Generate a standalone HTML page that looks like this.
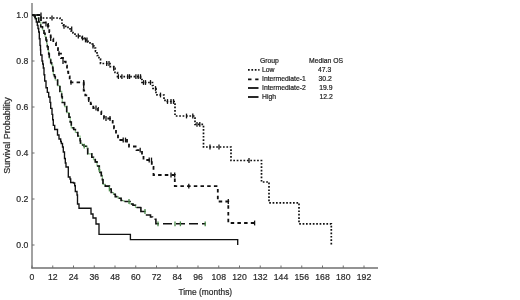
<!DOCTYPE html>
<html><head><meta charset="utf-8"><style>
html,body{margin:0;padding:0;background:#fff;}
body{width:520px;height:300px;overflow:hidden;position:relative;}
svg{position:absolute;left:0;top:0;will-change:transform;}
text{font-family:"Liberation Sans",sans-serif;}
</style></head><body>
<svg width="520" height="300" viewBox="0 0 520 300">
<rect width="520" height="300" fill="#fff"/>
<g stroke="#6f6f6f" stroke-width="1.3" fill="none">
<line x1="32" y1="3" x2="32" y2="268.6"/>
<line x1="31.4" y1="268" x2="378" y2="268"/>
</g>
<g stroke="#6f6f6f" stroke-width="1"><line x1="32.00" y1="268" x2="32.00" y2="265.5"/><line x1="52.75" y1="268" x2="52.75" y2="265.5"/><line x1="73.50" y1="268" x2="73.50" y2="265.5"/><line x1="94.25" y1="268" x2="94.25" y2="265.5"/><line x1="115.00" y1="268" x2="115.00" y2="265.5"/><line x1="135.75" y1="268" x2="135.75" y2="265.5"/><line x1="156.50" y1="268" x2="156.50" y2="265.5"/><line x1="177.25" y1="268" x2="177.25" y2="265.5"/><line x1="198.00" y1="268" x2="198.00" y2="265.5"/><line x1="218.75" y1="268" x2="218.75" y2="265.5"/><line x1="239.50" y1="268" x2="239.50" y2="265.5"/><line x1="260.25" y1="268" x2="260.25" y2="265.5"/><line x1="281.00" y1="268" x2="281.00" y2="265.5"/><line x1="301.75" y1="268" x2="301.75" y2="265.5"/><line x1="322.50" y1="268" x2="322.50" y2="265.5"/><line x1="343.25" y1="268" x2="343.25" y2="265.5"/><line x1="364.00" y1="268" x2="364.00" y2="265.5"/><line x1="32" y1="245.0" x2="34.5" y2="245.0"/><line x1="32" y1="199.0" x2="34.5" y2="199.0"/><line x1="32" y1="153.0" x2="34.5" y2="153.0"/><line x1="32" y1="107.0" x2="34.5" y2="107.0"/><line x1="32" y1="61.0" x2="34.5" y2="61.0"/><line x1="32" y1="15.0" x2="34.5" y2="15.0"/></g>
<g fill="#2a2a2a" stroke="#2a2a2a" stroke-width="0.2" font-size="8.7" text-anchor="middle"><text transform="translate(32.00,279.6) scale(1,1.1)">0</text><text transform="translate(52.75,279.6) scale(1,1.1)">12</text><text transform="translate(73.50,279.6) scale(1,1.1)">24</text><text transform="translate(94.25,279.6) scale(1,1.1)">36</text><text transform="translate(115.00,279.6) scale(1,1.1)">48</text><text transform="translate(135.75,279.6) scale(1,1.1)">60</text><text transform="translate(156.50,279.6) scale(1,1.1)">72</text><text transform="translate(177.25,279.6) scale(1,1.1)">84</text><text transform="translate(198.00,279.6) scale(1,1.1)">96</text><text transform="translate(218.75,279.6) scale(1,1.1)">108</text><text transform="translate(239.50,279.6) scale(1,1.1)">120</text><text transform="translate(260.25,279.6) scale(1,1.1)">132</text><text transform="translate(281.00,279.6) scale(1,1.1)">144</text><text transform="translate(301.75,279.6) scale(1,1.1)">156</text><text transform="translate(322.50,279.6) scale(1,1.1)">168</text><text transform="translate(343.25,279.6) scale(1,1.1)">180</text><text transform="translate(364.00,279.6) scale(1,1.1)">192</text></g>
<g fill="#2a2a2a" stroke="#2a2a2a" stroke-width="0.2" font-size="8.7" text-anchor="end"><text transform="translate(28.4,247.6) scale(1,1.1)">0.0</text><text transform="translate(28.4,201.6) scale(1,1.1)">0.2</text><text transform="translate(28.4,155.6) scale(1,1.1)">0.4</text><text transform="translate(28.4,109.6) scale(1,1.1)">0.6</text><text transform="translate(28.4,63.6) scale(1,1.1)">0.8</text><text transform="translate(28.4,17.6) scale(1,1.1)">1.0</text></g>
<text x="205.3" y="295" fill="#2a2a2a" stroke="#2a2a2a" stroke-width="0.2" font-size="8.4" text-anchor="middle">Time (months)</text>
<text transform="translate(10.4,135.4) rotate(-90)" fill="#2a2a2a" stroke="#2a2a2a" stroke-width="0.2" font-size="9" text-anchor="middle">Survival Probability</text>
<g fill="none" stroke-width="1.3" stroke-linejoin="miter">
<path d="M32.0 15.0 L41.0 15.0 L41.0 18.0 L60.0 18.0 L60.0 20.0 L62.0 20.0 L62.0 25.0 L63.3 25.0 L63.3 26.3 L68.0 26.3 L68.0 28.8 L71.0 28.8 L71.0 31.0 L73.0 31.0 L73.0 33.0 L75.0 33.0 L75.0 36.0 L82.0 36.0 L82.0 38.0 L84.0 38.0 L84.0 40.0 L88.0 40.0 L88.0 42.0 L90.0 42.0 L90.0 44.0 L92.5 44.0 L92.5 46.0 L94.0 46.0 L94.0 48.0 L95.5 48.0 L95.5 51.3 L97.0 51.3 L97.0 55.5 L99.0 55.5 L99.0 59.0 L100.5 59.0 L100.5 63.5 L110.0 63.5 L110.0 66.7 L113.7 66.7 L113.7 68.4 L115.0 68.4 L115.0 72.5 L117.5 72.5 L117.5 76.6 L140.5 76.6 L140.5 79.5 L142.0 79.5 L142.0 82.5 L152.5 82.5 L152.5 85.5 L153.0 85.5 L153.0 88.5 L156.0 88.5 L156.0 92.5 L157.0 92.5 L157.0 95.0 L164.0 95.0 L164.0 99.0 L165.0 99.0 L165.0 101.5 L175.0 101.5 L175.0 116.0 L195.0 116.0 L195.0 124.4 L203.5 124.4 L203.5 147.0 L231.0 147.0 L231.0 160.5 L261.5 160.5 L261.5 182.0 L269.0 182.0 L269.0 202.8 L299.0 202.8 L299.0 223.8 L331.3 223.8 L331.3 245.0" stroke="#111" stroke-width="1.7" stroke-dasharray="1.7 1.7"/>
<path d="M32.0 15.0 L34.0 15.0 L34.0 15.0 L41.0 15.0 L41.0 20.0 L42.7 20.0 L42.7 22.7 L45.3 22.7 L45.3 24.0 L48.0 24.0 L48.0 26.0 L49.3 26.0 L49.3 32.0 L50.0 32.0 L50.0 34.0 L50.7 34.0 L50.7 38.7 L53.3 38.7 L53.3 42.7 L56.0 42.7 L56.0 46.7 L57.0 46.7 L57.0 47.0 L58.0 47.0 L58.0 50.0 L59.0 50.0 L59.0 53.7 L61.0 53.7 L61.0 58.0 L63.0 58.0 L63.0 61.7 L65.7 61.7 L65.7 65.7 L67.0 65.7 L67.0 71.7 L68.3 71.7 L68.3 76.3 L69.7 76.3 L69.7 80.3 L71.0 80.3 L71.0 82.3 L83.7 82.3 L83.7 90.7 L85.3 90.7 L85.3 95.3 L88.7 95.3 L88.7 99.7 L90.7 99.7 L90.7 104.0 L93.3 104.0 L93.3 108.0 L98.0 108.0 L98.0 111.3 L101.3 111.3 L101.3 114.0 L104.0 114.0 L104.0 118.5 L112.7 118.5 L112.7 123.8 L114.0 123.8 L114.0 128.4 L116.0 128.4 L116.0 133.7 L118.0 133.7 L118.0 140.0 L127.0 140.0 L127.0 143.0 L129.0 143.0 L129.0 146.5 L136.5 146.5 L136.5 150.2 L142.0 150.2 L142.0 157.0 L143.5 157.0 L143.5 160.0 L151.8 160.0 L151.8 167.0 L153.5 167.0 L153.5 175.0 L174.8 175.0 L174.8 186.2 L217.8 186.2 L217.8 201.5 L228.3 201.5 L228.3 223.0 L255.0 223.0 L255.0 223.0" stroke="#111" stroke-width="1.8" stroke-dasharray="3.5 3.2" stroke-dashoffset="2"/>
<path d="M32.0 15.0 L35.0 15.0 L35.0 18.0 L38.7 18.0 L38.7 22.0 L40.7 22.0 L40.7 26.7 L42.5 26.7 L42.5 30.0 L44.0 30.0 L44.0 33.3 L45.0 33.3 L45.0 36.5 L46.0 36.5 L46.0 40.0 L46.7 40.0 L46.7 43.5 L47.3 43.5 L47.3 46.7 L48.1 46.7 L48.1 50.7 L48.7 50.7 L48.7 54.0 L49.3 54.0 L49.3 58.7 L50.7 58.7 L50.7 62.7 L51.6 62.7 L51.6 65.0 L52.7 65.0 L52.7 68.0 L53.0 68.0 L53.0 71.0 L53.3 71.0 L53.3 74.7 L54.5 74.7 L54.5 76.5 L55.3 76.5 L55.3 80.0 L57.6 80.0 L57.6 85.6 L59.9 85.6 L59.9 91.4 L61.7 91.4 L61.7 96.7 L62.3 96.7 L62.3 102.5 L64.6 102.5 L64.6 106.6 L66.7 106.6 L66.7 112.7 L69.0 112.7 L69.0 117.3 L70.2 117.3 L70.2 122.0 L71.3 122.0 L71.3 127.8 L73.7 127.8 L73.7 129.5 L75.4 129.5 L75.4 132.5 L77.8 132.5 L77.8 136.0 L80.1 136.0 L80.1 140.7 L80.5 140.7 L80.5 143.3 L82.0 143.3 L82.0 145.0 L84.2 145.0 L84.2 146.2 L87.1 146.2 L87.1 148.5 L87.7 148.5 L87.7 153.8 L91.8 153.8 L91.8 157.3 L93.5 157.3 L93.5 159.6 L95.3 159.6 L95.3 161.9 L97.0 161.9 L97.0 166.0 L99.3 166.0 L99.3 169.5 L100.0 169.5 L100.0 172.4 L101.3 172.4 L101.3 175.6 L102.4 175.6 L102.4 179.7 L103.0 179.7 L103.0 184.3 L105.3 184.3 L105.3 186.1 L109.4 186.1 L109.4 189.0 L111.2 189.0 L111.2 192.5 L113.5 192.5 L113.5 194.3 L115.3 194.3 L115.3 196.6 L118.2 196.6 L118.2 198.3 L121.1 198.3 L121.1 200.5 L124.0 200.5 L124.0 201.5 L130.0 201.5 L130.0 201.5 L130.0 201.5 L130.0 204.0 L133.0 204.0 L133.0 205.2 L135.5 205.2 L135.5 207.5 L140.5 207.5 L140.5 208.0" stroke="#8cbf8c" stroke-width="1.2"/>
<path d="M32.0 15.0 L35.0 15.0 L35.0 18.0 L38.7 18.0 L38.7 22.0 L40.7 22.0 L40.7 26.7 L42.5 26.7 L42.5 30.0 L44.0 30.0 L44.0 33.3 L45.0 33.3 L45.0 36.5 L46.0 36.5 L46.0 40.0 L46.7 40.0 L46.7 43.5 L47.3 43.5 L47.3 46.7 L48.1 46.7 L48.1 50.7 L48.7 50.7 L48.7 54.0 L49.3 54.0 L49.3 58.7 L50.7 58.7 L50.7 62.7 L51.6 62.7 L51.6 65.0 L52.7 65.0 L52.7 68.0 L53.0 68.0 L53.0 71.0 L53.3 71.0 L53.3 74.7 L54.5 74.7 L54.5 76.5 L55.3 76.5 L55.3 80.0 L57.6 80.0 L57.6 85.6 L59.9 85.6 L59.9 91.4 L61.7 91.4 L61.7 96.7 L62.3 96.7 L62.3 102.5 L64.6 102.5 L64.6 106.6 L66.7 106.6 L66.7 112.7 L69.0 112.7 L69.0 117.3 L70.2 117.3 L70.2 122.0 L71.3 122.0 L71.3 127.8 L73.7 127.8 L73.7 129.5 L75.4 129.5 L75.4 132.5 L77.8 132.5 L77.8 136.0 L80.1 136.0 L80.1 140.7 L80.5 140.7 L80.5 143.3 L82.0 143.3 L82.0 145.0 L84.2 145.0 L84.2 146.2 L87.1 146.2 L87.1 148.5 L87.7 148.5 L87.7 153.8 L91.8 153.8 L91.8 157.3 L93.5 157.3 L93.5 159.6 L95.3 159.6 L95.3 161.9 L97.0 161.9 L97.0 166.0 L99.3 166.0 L99.3 169.5 L100.0 169.5 L100.0 172.4 L101.3 172.4 L101.3 175.6 L102.4 175.6 L102.4 179.7 L103.0 179.7 L103.0 184.3 L105.3 184.3 L105.3 186.1 L109.4 186.1 L109.4 189.0 L111.2 189.0 L111.2 192.5 L113.5 192.5 L113.5 194.3 L115.3 194.3 L115.3 196.6 L118.2 196.6 L118.2 198.3 L121.1 198.3 L121.1 200.5 L124.0 200.5 L124.0 201.5 L130.0 201.5 L130.0 201.5 L130.0 201.5 L130.0 204.0 L133.0 204.0 L133.0 205.2 L135.5 205.2 L135.5 207.5 L140.5 207.5 L140.5 208.0" stroke="#111" stroke-width="1.6" stroke-dasharray="6 3"/>
<path d="M140.5 208.0 L140.9 208.0 L140.9 211.5 L145.0 211.5 L145.0 215.0 L150.5 215.0 L150.5 217.0 L152.5 217.0 L152.5 219.3 L155.9 219.3 L155.9 223.8 L205.7 223.8 L205.7 223.8" stroke="#111" stroke-width="1.6" stroke-dasharray="9 4" stroke-dashoffset="0.7"/>
<path d="M32.0 15.0 L34.0 15.0 L34.0 16.0 L35.3 16.0 L35.3 18.7 L36.3 18.7 L36.3 22.0 L37.3 22.0 L37.3 25.3 L38.0 25.3 L38.0 28.5 L38.7 28.5 L38.7 32.0 L39.3 32.0 L39.3 38.7 L40.0 38.7 L40.0 45.3 L40.5 45.3 L40.5 50.0 L40.7 50.0 L40.7 55.0 L42.0 55.0 L42.0 61.0 L42.7 61.0 L42.7 64.0 L43.3 64.0 L43.3 68.0 L44.0 68.0 L44.0 74.7 L44.7 74.7 L44.7 81.0 L46.0 81.0 L46.0 87.7 L47.3 87.7 L47.3 92.3 L48.7 92.3 L48.7 97.0 L50.0 97.0 L50.0 102.3 L50.7 102.3 L50.7 108.3 L52.0 108.3 L52.0 114.3 L52.7 114.3 L52.7 119.7 L53.3 119.7 L53.3 125.3 L54.7 125.3 L54.7 129.5 L57.5 129.5 L57.5 135.0 L59.0 135.0 L59.0 139.0 L60.7 139.0 L60.7 141.5 L61.3 141.5 L61.3 143.5 L62.5 143.5 L62.5 147.0 L63.3 147.0 L63.3 152.0 L64.5 152.0 L64.5 158.5 L65.3 158.5 L65.3 163.0 L66.0 163.0 L66.0 167.0 L68.3 167.0 L68.3 177.0 L70.0 177.0 L70.0 179.0 L70.7 179.0 L70.7 182.5 L73.5 182.5 L73.5 183.0 L74.7 183.0 L74.7 185.7 L75.3 185.7 L75.3 191.5 L77.0 191.5 L77.0 195.0 L77.5 195.0 L77.5 204.0 L79.0 204.0 L79.0 208.2 L91.0 208.2 L91.0 214.0 L93.0 214.0 L93.0 218.0 L96.0 218.0 L96.0 224.0 L99.0 224.0 L99.0 234.4 L130.4 234.4 L130.4 239.6 L237.7 239.6 L237.7 245.0" stroke="#111" stroke-width="1.35"/>
</g>
<g stroke="#111" stroke-width="1.3"><line x1="41.0" y1="12.6" x2="41.0" y2="17.4"/><line x1="52.0" y1="15.6" x2="52.0" y2="20.4"/><line x1="64.0" y1="23.9" x2="64.0" y2="28.7"/><line x1="71.7" y1="26.4" x2="71.7" y2="31.2"/><line x1="78.3" y1="33.6" x2="78.3" y2="38.4"/><line x1="82.5" y1="35.6" x2="82.5" y2="40.4"/><line x1="85.5" y1="37.6" x2="85.5" y2="42.4"/><line x1="87.0" y1="37.6" x2="87.0" y2="42.4"/><line x1="93.0" y1="43.6" x2="93.0" y2="48.4"/><line x1="106.7" y1="61.1" x2="106.7" y2="65.9"/><line x1="109.0" y1="61.1" x2="109.0" y2="65.9"/><line x1="113.7" y1="66.0" x2="113.7" y2="70.8"/><line x1="118.4" y1="74.2" x2="118.4" y2="79.0"/><line x1="121.9" y1="74.2" x2="121.9" y2="79.0"/><line x1="127.7" y1="74.2" x2="127.7" y2="79.0"/><line x1="129.5" y1="74.2" x2="129.5" y2="79.0"/><line x1="135.9" y1="74.2" x2="135.9" y2="79.0"/><line x1="138.2" y1="74.2" x2="138.2" y2="79.0"/><line x1="140.5" y1="74.2" x2="140.5" y2="79.0"/><line x1="143.5" y1="80.1" x2="143.5" y2="84.9"/><line x1="145.5" y1="80.1" x2="145.5" y2="84.9"/><line x1="150.5" y1="80.1" x2="150.5" y2="84.9"/><line x1="155.5" y1="86.1" x2="155.5" y2="90.9"/><line x1="160.5" y1="92.6" x2="160.5" y2="97.4"/><line x1="167.5" y1="99.1" x2="167.5" y2="103.9"/><line x1="171.0" y1="99.1" x2="171.0" y2="103.9"/><line x1="173.5" y1="99.1" x2="173.5" y2="103.9"/><line x1="186.5" y1="113.6" x2="186.5" y2="118.4"/><line x1="192.8" y1="113.6" x2="192.8" y2="118.4"/><line x1="197.0" y1="122.0" x2="197.0" y2="126.8"/><line x1="199.8" y1="122.0" x2="199.8" y2="126.8"/><line x1="210.0" y1="144.6" x2="210.0" y2="149.4"/><line x1="219.0" y1="144.6" x2="219.0" y2="149.4"/><line x1="249.0" y1="158.1" x2="249.0" y2="162.9"/><line x1="46.0" y1="21.6" x2="46.0" y2="26.4"/><line x1="48.0" y1="23.6" x2="48.0" y2="28.4"/><line x1="50.7" y1="36.3" x2="50.7" y2="41.1"/><line x1="59.0" y1="51.3" x2="59.0" y2="56.1"/><line x1="63.0" y1="59.3" x2="63.0" y2="64.1"/><line x1="71.0" y1="79.9" x2="71.0" y2="84.7"/><line x1="83.7" y1="79.9" x2="83.7" y2="84.7"/><line x1="83.7" y1="83.6" x2="83.7" y2="88.4"/><line x1="88.7" y1="97.3" x2="88.7" y2="102.1"/><line x1="96.0" y1="105.6" x2="96.0" y2="110.4"/><line x1="106.0" y1="116.1" x2="106.0" y2="120.9"/><line x1="110.0" y1="116.1" x2="110.0" y2="120.9"/><line x1="123.2" y1="137.6" x2="123.2" y2="142.4"/><line x1="125.5" y1="137.6" x2="125.5" y2="142.4"/><line x1="140.2" y1="147.8" x2="140.2" y2="152.6"/><line x1="149.2" y1="157.6" x2="149.2" y2="162.4"/><line x1="151.5" y1="157.6" x2="151.5" y2="162.4"/><line x1="171.0" y1="172.6" x2="171.0" y2="177.4"/><line x1="174.7" y1="172.6" x2="174.7" y2="177.4"/><line x1="188.8" y1="183.8" x2="188.8" y2="188.6"/><line x1="228.3" y1="199.1" x2="228.3" y2="203.9"/><line x1="254.6" y1="220.6" x2="254.6" y2="225.4"/></g>
<g stroke="#4a8a4a" stroke-width="1.3"><line x1="84.2" y1="143.8" x2="84.2" y2="148.6"/><line x1="99.3" y1="167.1" x2="99.3" y2="171.9"/><line x1="109.4" y1="186.6" x2="109.4" y2="191.4"/><line x1="129.0" y1="199.1" x2="129.0" y2="203.9"/><line x1="145.0" y1="209.1" x2="145.0" y2="213.9"/><line x1="158.0" y1="221.4" x2="158.0" y2="226.2"/><line x1="175.0" y1="221.4" x2="175.0" y2="226.2"/><line x1="180.4" y1="221.4" x2="180.4" y2="226.2"/><line x1="205.2" y1="221.4" x2="205.2" y2="226.2"/></g>
<g font-size="6.8" fill="#222" stroke="#222" stroke-width="0.2">
<text x="260" y="63">Group</text>
<text x="309" y="63">Median OS</text>
<text x="262" y="72.3">Low</text><text x="318" y="72.3">47.3</text>
<text x="262" y="81.3">Intermediate-1</text><text x="318.6" y="81">30.2</text>
<text x="262" y="90.3">Intermediate-2</text><text x="319.2" y="90.3">19.9</text>
<text x="262" y="98.5">High</text><text x="319.5" y="98.8">12.2</text>
</g>
<g stroke="#111" stroke-width="1.8" fill="none">
<line x1="248" y1="69.9" x2="259.5" y2="69.9" stroke-dasharray="1.7 1.7"/>
<line x1="248" y1="79.3" x2="258.5" y2="79.3" stroke-dasharray="3.5 3.7"/>
<line x1="248" y1="88" x2="258.5" y2="88"/>
<line x1="248" y1="97" x2="258.5" y2="97"/>
</g>
</svg>
</body></html>
